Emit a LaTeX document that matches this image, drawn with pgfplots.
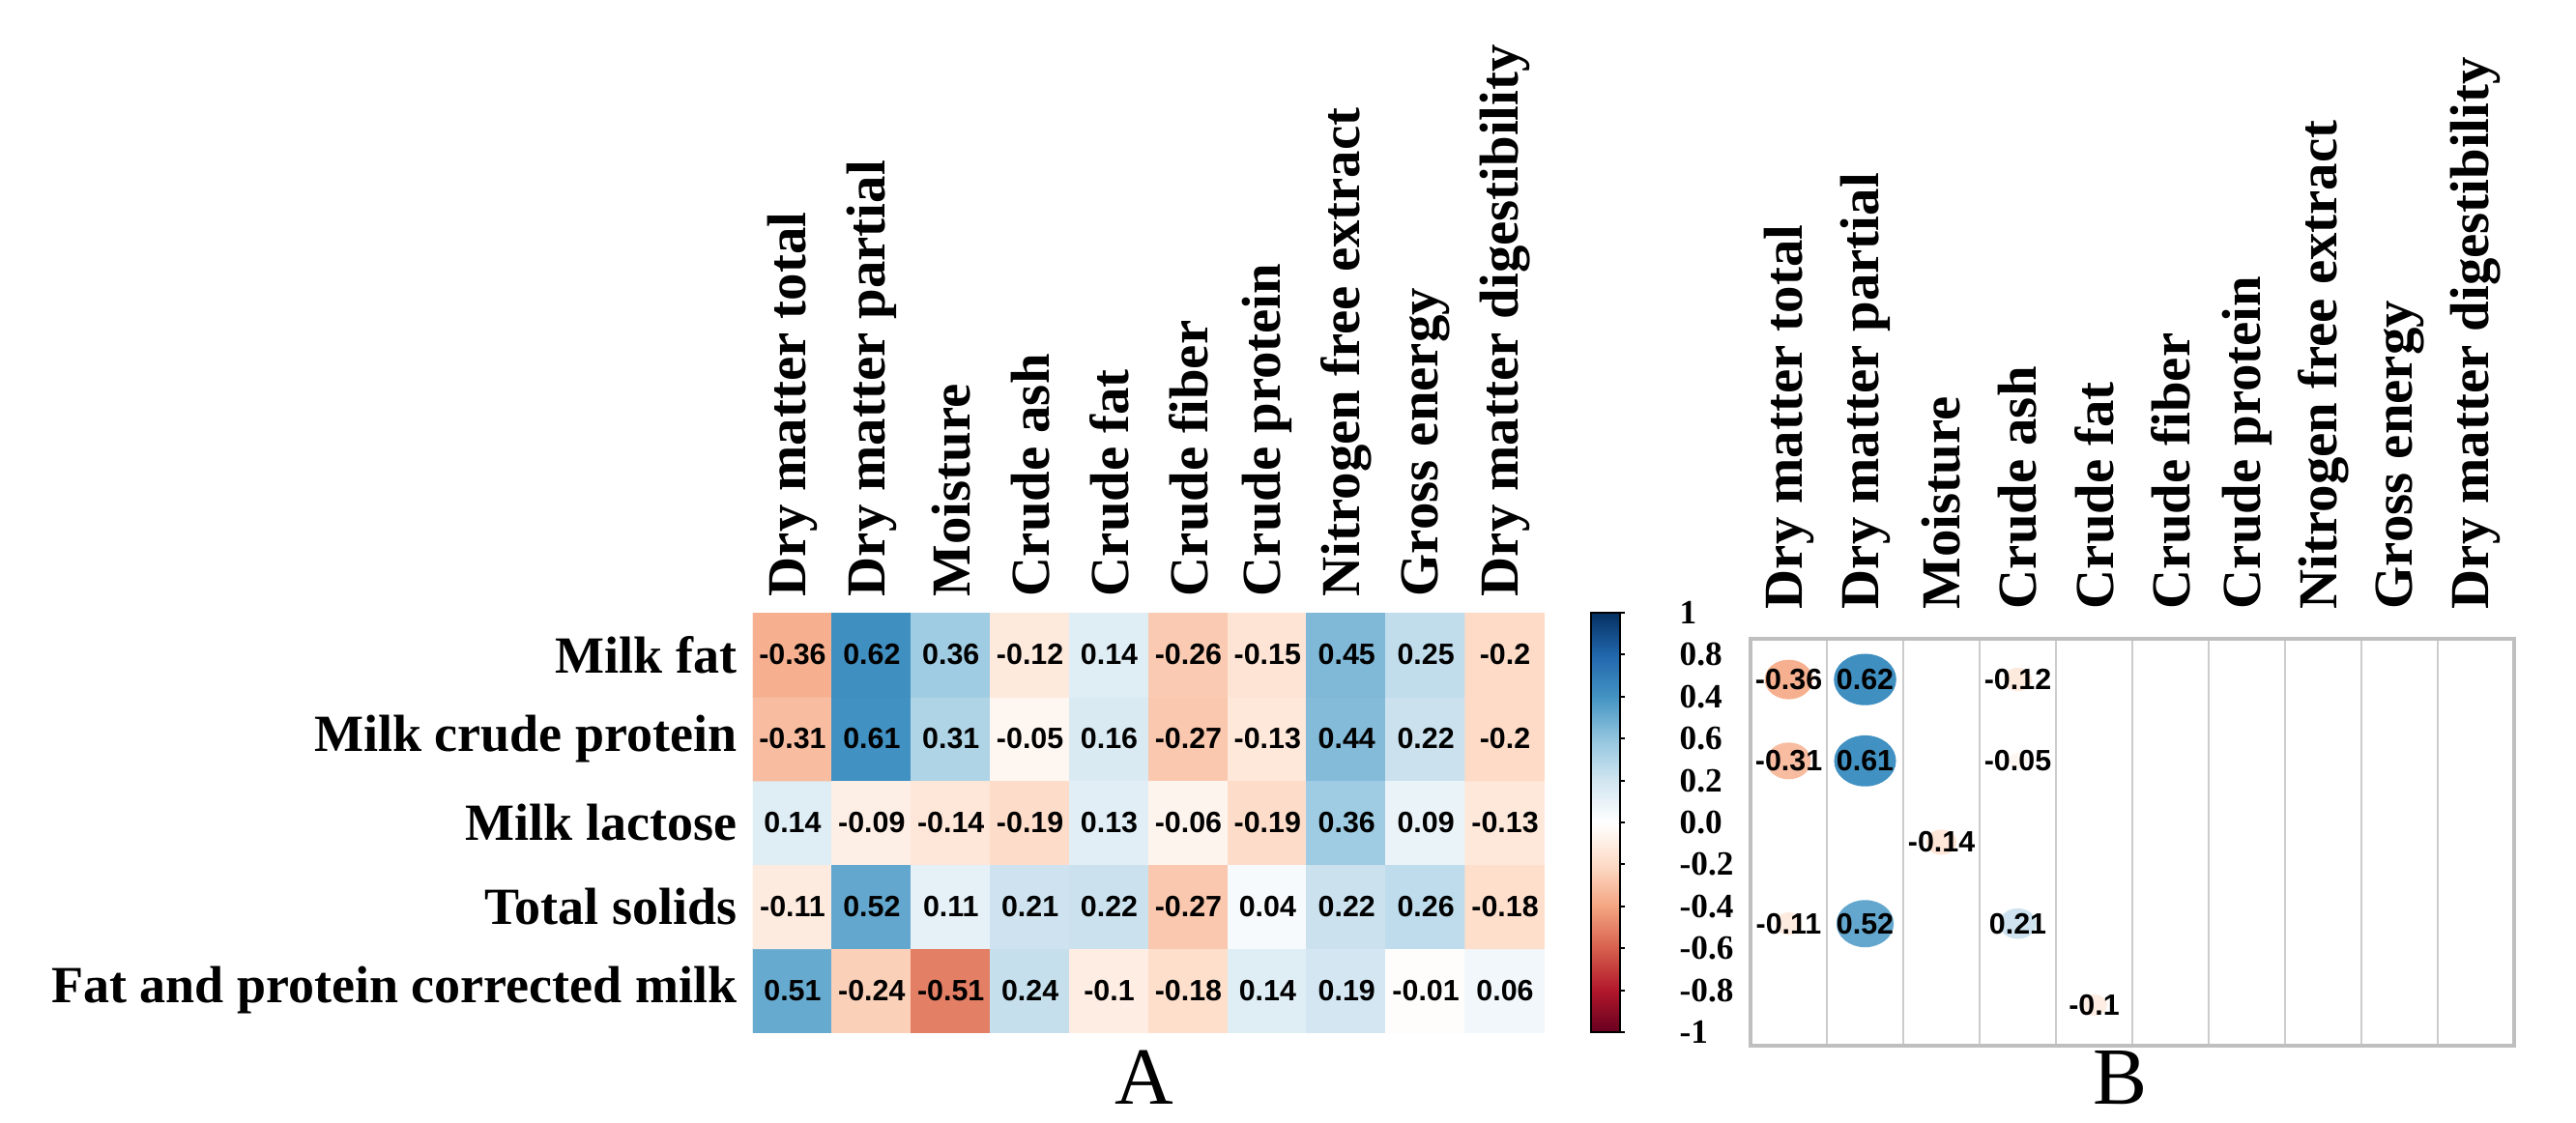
\documentclass[border=0pt]{standalone}
\usepackage{fontspec}
\setmainfont{Liberation Serif}
\setsansfont{Liberation Sans}
\usepackage{pgfplots}
\usepackage{pgfplotstable}
\pgfplotsset{compat=1.18}
\pgfplotsset{colormap={rdbu}{rgb255=(103,0,31) rgb255=(178,24,43) rgb255=(214,96,77) rgb255=(244,165,130) rgb255=(253,219,199) rgb255=(255,255,255) rgb255=(209,229,240) rgb255=(146,197,222) rgb255=(67,147,195) rgb255=(33,102,172) rgb255=(5,48,97)}}

\pgfplotstableread{
x y r
0 0 0.51
1 0 -0.24
2 0 -0.51
3 0 0.24
4 0 -0.1
5 0 -0.18
6 0 0.14
7 0 0.19
8 0 -0.01
9 0 0.06
0 1 -0.11
1 1 0.52
2 1 0.11
3 1 0.21
4 1 0.22
5 1 -0.27
6 1 0.04
7 1 0.22
8 1 0.26
9 1 -0.18
0 2 0.14
1 2 -0.09
2 2 -0.14
3 2 -0.19
4 2 0.13
5 2 -0.06
6 2 -0.19
7 2 0.36
8 2 0.09
9 2 -0.13
0 3 -0.31
1 3 0.61
2 3 0.31
3 3 -0.05
4 3 0.16
5 3 -0.27
6 3 -0.13
7 3 0.44
8 3 0.22
9 3 -0.2
0 4 -0.36
1 4 0.62
2 4 0.36
3 4 -0.12
4 4 0.14
5 4 -0.26
6 4 -0.15
7 4 0.45
8 4 0.25
9 4 -0.2
}\heatA

\pgfplotstableread{
x y r
0 4 -0.36
1 4 0.62
3 4 -0.12
0 3 -0.31
1 3 0.61
3 3 -0.05
2 2 -0.14
0 1 -0.11
1 1 0.52
3 1 0.21
4 0 -0.1
}\sigB

\def\collabels{Dry matter total,Dry matter partial,Moisture,Crude ash,Crude fat,Crude fiber,Crude protein,Nitrogen free extract,Gross energy,Dry matter digestibility}

\begin{document}
\begin{tikzpicture}
\useasboundingbox (0,0) rectangle (666.25pt,290.25pt);
% ---------- Panel A ----------
\begin{axis}[
  at={(194.75pt,23.25pt)}, anchor=south west,
  scale only axis, width=204.75pt, height=108.5pt,
  xmin=-0.5, xmax=9.5, ymin=-0.5, ymax=4.5,
  axis line style={draw=none},
  xtick={0,...,9}, ytick={0,...,4},
  xticklabels/.expanded={\collabels},
  yticklabels={Fat and protein corrected milk,Total solids,Milk lactose,Milk crude protein,Milk fat},
  xticklabel pos=upper,
  major tick length=0pt,
  xticklabel style={rotate=90, anchor=west, font=\bfseries\fontsize{14.2}{14.2}\selectfont, inner xsep=4pt},
  yticklabel style={anchor=east, font=\bfseries\fontsize{13.5}{13.5}\selectfont, inner xsep=4pt},
  colormap name=rdbu, point meta min=-1, point meta max=1,
  colorbar,
  colorbar style={
    at={(parent axis.north east)}, anchor=north west, xshift=3.5pt,
    scale only axis, width=7.5pt, height=108.5pt,
    ytick={-1,-0.8,-0.6,-0.4,-0.2,0,0.2,0.4,0.6,0.8,1},
    yticklabels={-1,-0.8,-0.6,-0.4,-0.2,0.0,0.2,0.6,0.4,0.8,1},
    ytick pos=right, yticklabel pos=right,
    tick align=outside, major tick length=1.2pt,
    tick style={black, line width=0.5pt},
    axis line style={black, line width=0.6pt},
    yticklabel style={anchor=west, inner xsep=0pt, xshift=14pt, font=\bfseries\fontsize{8.8}{8.8}\selectfont},
  },
]
\addplot[matrix plot*, mesh/cols=10, point meta=explicit] table[x=x, y=y, meta=r] {\heatA};
\addplot[draw=none, mark=none, nodes near coords, point meta=explicit symbolic,
  nodes near coords style={anchor=center, inner sep=0pt, font=\sffamily\bfseries\fontsize{7.6}{7.6}\selectfont, text=black}]
  table[x=x, y=y, meta=r] {\heatA};
\end{axis}
% ---------- Panel B ----------
\begin{axis}[
  at={(452.75pt,19.75pt)}, anchor=south west,
  scale only axis, width=197.5pt, height=105.25pt,
  xmin=-0.5, xmax=9.5, ymin=-0.5, ymax=4.5,
  xtick={0,...,9}, ytick=\empty,
  xticklabels/.expanded={\collabels},
  xticklabel pos=upper,
  major tick length=0pt, minor tick length=0pt,
  minor xtick={0.5,1.5,2.5,3.5,4.5,5.5,6.5,7.5,8.5},
  minor ytick={0.5,1.5,2.5,3.5},
  xminorgrids, yminorgrids,
  minor grid style={black!20, line width=0.6pt},
  axis line style={black!25, line width=0.9pt},
  xticklabel style={rotate=90, anchor=west, font=\bfseries\fontsize{14.2}{14.2}\selectfont, inner xsep=7.5pt},
  colormap name=rdbu, point meta min=-1, point meta max=1,
]
\addplot[scatter, only marks, mark=*, point meta=explicit,
  scatter/use mapped color={draw=mapped color, fill=mapped color},
  visualization depends on={10*sqrt(abs(\thisrow{r})) \as \rad},
  scatter/@pre marker code/.append style={/tikz/mark size=\rad pt, /tikz/yscale=0.82}]
  table[x=x, y=y, meta=r] {\sigB};
\addplot[draw=none, mark=none, nodes near coords, point meta=explicit symbolic,
  nodes near coords style={anchor=center, inner sep=0pt, font=\sffamily\bfseries\fontsize{7.6}{7.6}\selectfont, text=black}]
  table[x=x, y=y, meta=r] {\sigB};
\end{axis}
\node[anchor=base, inner sep=0pt, font=\fontsize{21}{21}\selectfont] at (296pt,4.6pt) {A};
\node[anchor=base, inner sep=0pt, font=\fontsize{21}{21}\selectfont] at (548.25pt,4.6pt) {B};
\end{tikzpicture}
\end{document}
